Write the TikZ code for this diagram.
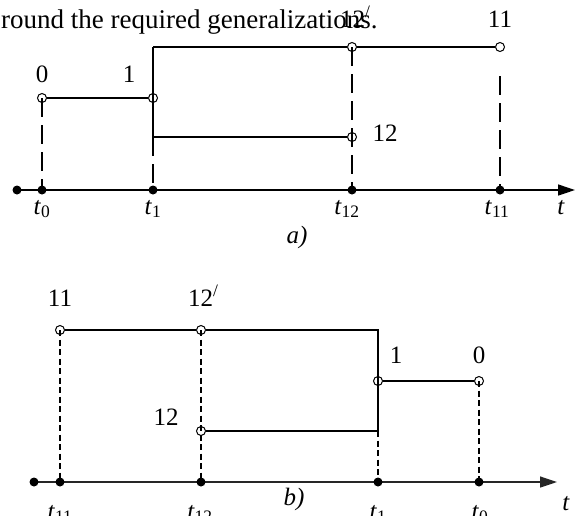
\documentclass[tikz,border=0pt]{standalone}
\usepackage{fontspec}
\setmainfont{Liberation Serif}
\usetikzlibrary{arrows.meta}
\tikzset{
  odot/.style={circle, draw, line width=1pt, fill=white, inner sep=0pt, minimum size=9pt},
  bdot/.style={circle, fill=black, inner sep=0pt, minimum size=9pt},
  ln/.style={line width=1.1pt},
  axisline/.style={line width=1.3pt, -{Triangle[length=17pt,width=11pt]}},
  dlong/.style={line width=2.1pt, dash pattern=on 19pt off 8pt},
  dshort/.style={line width=2pt, dash pattern=on 6pt off 3.5pt},
  lbl/.style={font=\fontsize{25}{27}\selectfont, inner sep=0pt, anchor=base},
  tl/.style={font=\fontsize{25}{27}\selectfont, inner sep=0pt, anchor=base},
}
\begin{document}
\begin{tikzpicture}[x=1pt,y=-1pt]
\useasboundingbox (0,0) rectangle (577,515);
% top text
\node[font=\fontsize{27}{29}\selectfont, inner sep=0pt, anchor=base west] (txt) at (1,28) {round the required generalizations.};

% ===== figure a =====
\coordinate (aL) at (17,190);
\coordinate (aR) at (575,190);
\coordinate (aC) at (153,47);
\coordinate (aM) at (153,137);
\draw[axisline] (aL) -- (aR);
\node[bdot] (ad) at (aL) {};
\node[bdot] (at0) at (42,190) {};
\node[bdot] (at1) at (153,190) {};
\node[bdot] (at12) at (352,190) {};
\node[bdot] (at11) at (500,190) {};
\node[odot] (a0) at (42,98) {};
\node[odot] (a1) at (153,98) {};
\node[odot] (a12p) at (352,47) {};
\node[odot] (a11) at (500,47) {};
\node[odot] (a12) at (352,137) {};
\coordinate (a11d) at (500,76);
\draw[ln] (a0) -- (a1);
\draw[ln] (aC) -- (a12p) -- (a11);
\draw[ln] (aC) -- (aM);
\draw[ln] (aM) -- (a12);
\draw[dlong] (a0.center) -- (at0.center);
\draw[dlong] (aM) -- (at1.center);
\draw[dlong] (a12p.center) -- (at12.center);
\draw[dlong] (a11d) -- (at11.center);
\node[lbl] (la0) at (42,82) {0};
\node[lbl] (la1) at (129,82) {1};
\node[lbl, anchor=base west] (la12p) at (340,27) {12\textsuperscript{/}};
\node[lbl] (la11) at (500,27) {11};
\node[lbl] (la12) at (385,141) {12};
\node[tl] (lt0) at (42,214) {\textit{t}\textsubscript{0}};
\node[tl] (lt1) at (153,214) {\textit{t}\textsubscript{1}};
\node[tl] (lt12) at (347,214) {\textit{t}\textsubscript{12}};
\node[tl] (lt11) at (497,214) {\textit{t}\textsubscript{11}};
\node[tl] (lta) at (561,214) {\textit{t}};
\node[tl] (capa) at (297,243) {\textit{a)}};

% ===== figure b =====
\coordinate (bL) at (34,482);
\coordinate (bR) at (557,482);
\coordinate (bC) at (378,330);
\coordinate (bM) at (378,431);
\draw[axisline, draw=black!85] (bL) -- (bR);
\node[bdot] (bd) at (bL) {};
\node[bdot] (bt11) at (60,482) {};
\node[bdot] (bt12) at (201,482) {};
\node[bdot] (bt1) at (378,482) {};
\node[bdot] (bt0) at (479,482) {};
\node[odot] (b11) at (60,330) {};
\node[odot] (b12p) at (201,330) {};
\node[odot] (b1) at (378,381) {};
\node[odot] (b0) at (479,381) {};
\node[odot] (b12) at (201,431) {};
\draw[ln] (b11) -- (b12p) -- (bC) -- (bM);
\draw[ln] (b1) -- (b0);
\draw[ln] (b12) -- (bM);
\draw[dshort] (b11.center) -- (bt11.center);
\draw[dshort] (b12p.center) -- (bt12.center);
\draw[dshort] (bM) -- (bt1.center);
\draw[dshort] (b0.center) -- (bt0.center);
\node[lbl] (lb11) at (60,306) {11};
\node[lbl, anchor=base west] (lb12p) at (188,306) {12\textsuperscript{/}};
\node[lbl] (lb12) at (166,425) {12};
\node[lbl] (lb1) at (396,363) {1};
\node[lbl] (lb0) at (479,363) {0};
\node[tl] (mt11) at (60,519) {\textit{t}\textsubscript{11}};
\node[tl] (mt12) at (200,519) {\textit{t}\textsubscript{12}};
\node[tl] (mt1) at (378,519) {\textit{t}\textsubscript{1}};
\node[tl] (mt0) at (480,519) {\textit{t}\textsubscript{0}};
\node[tl] (mtb) at (566,510) {\textit{t}};
\node[tl] (capb) at (294,505) {\textit{b)}};
\end{tikzpicture}
\end{document}
